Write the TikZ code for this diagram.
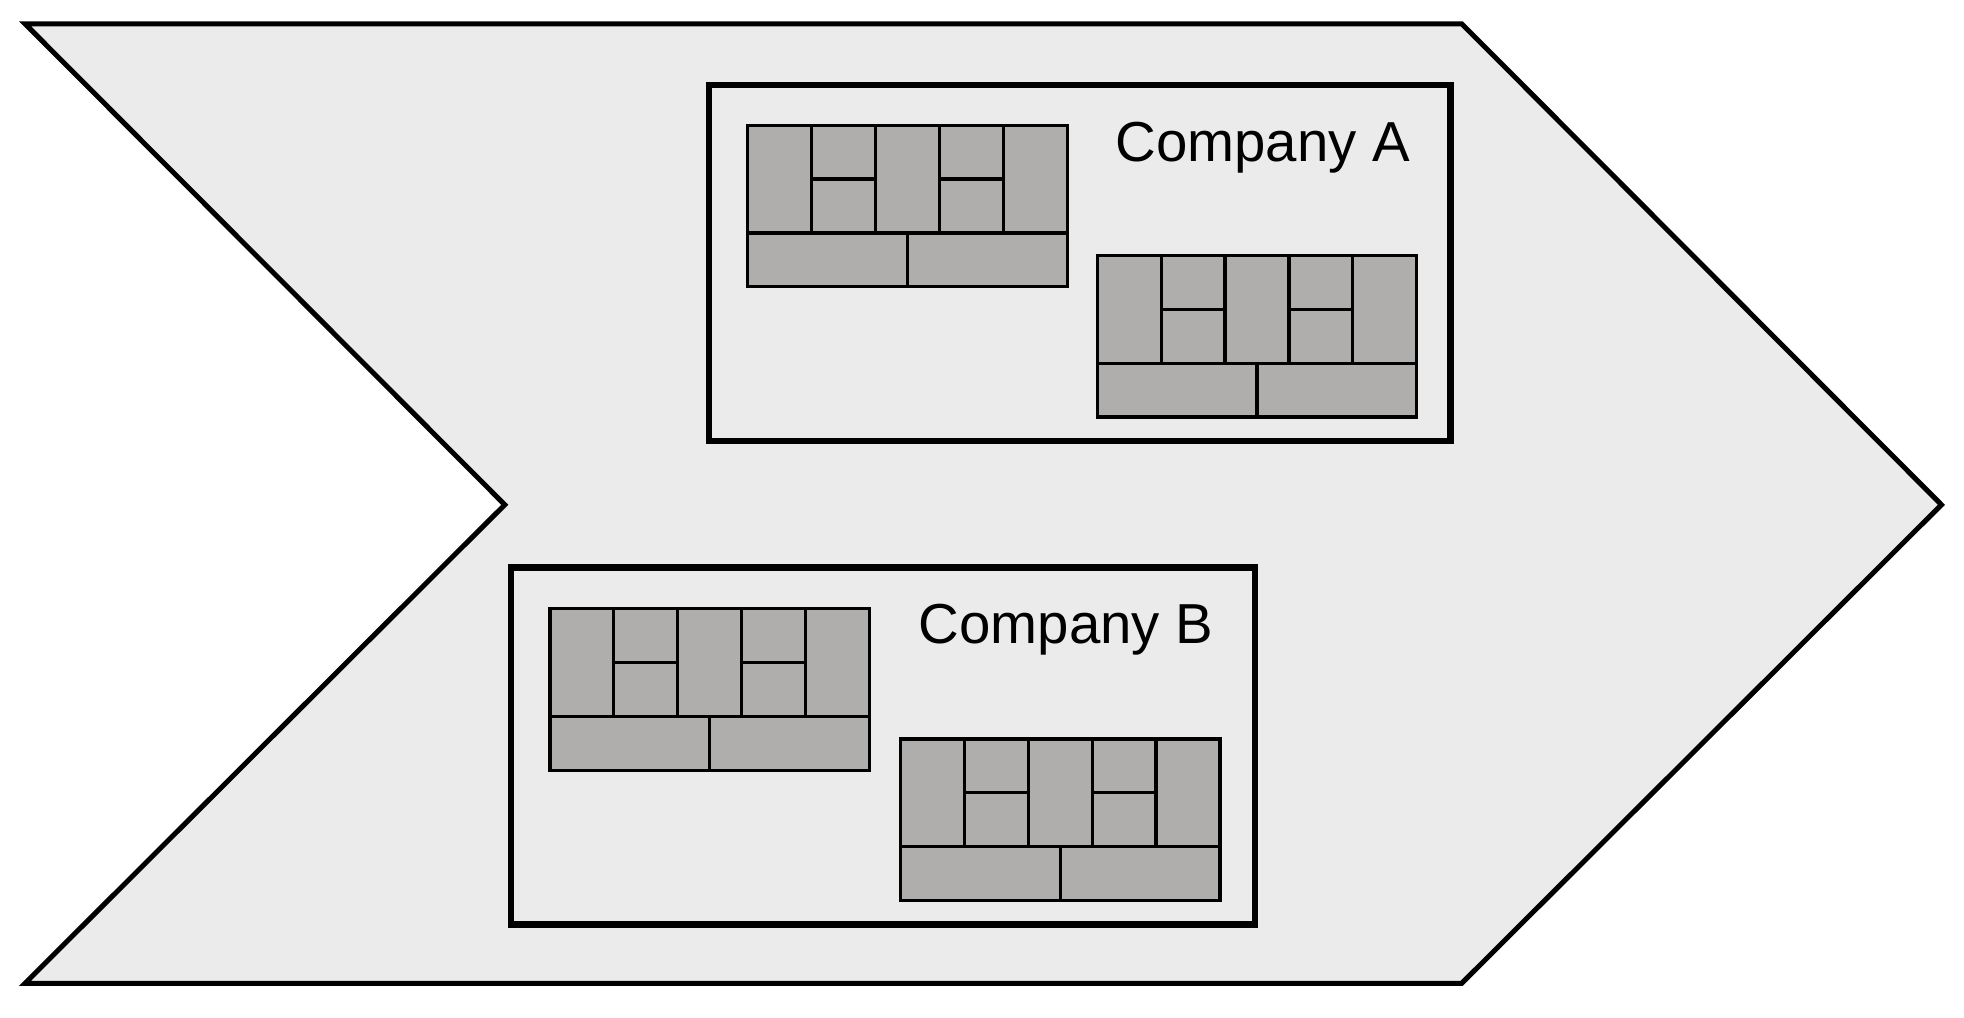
\documentclass[tikz,border=0pt]{standalone}
\usepackage{fontspec}
\setmainfont{Liberation Sans}
\definecolor{bgc}{HTML}{EBEBEB}
\definecolor{blk}{HTML}{B0AEAD}
\begin{document}
\begin{tikzpicture}[x=0.5pt,y=-0.5pt,
  chev/.style={fill=bgc,draw=black,line width=2pt,line join=miter},
  cbox/.style={draw=black,line width=2.6pt},
  cell/.style={fill=blk,draw=black,line width=1.3pt},
  lbl/.style={font=\fontsize{22.5pt}{26pt}\selectfont,inner sep=0pt}]
\useasboundingbox (0,0) rectangle (1568,812);
\draw[chev] (20,19) -- (1167,19) -- (1550,403) -- (1167,785) -- (20,785) -- (403,403) -- cycle;
\draw[cbox] (566,68) rectangle (1158,352);
\draw[cbox] (408,453) rectangle (1002,738);
\node[lbl] (la) at (1008,118) {Company A};
\node[lbl] (lb) at (851,503) {Company B};
\newcommand{\minib}[2]{%
 \begin{scope}[shift={(#1,#2)}]
  \foreach \i in {0,2,4} {\draw[cell] (\i*51,0) rectangle ++(51,86);}
  \foreach \i in {1,3} {\draw[cell] (\i*51,0) rectangle ++(51,43);\draw[cell] (\i*51,43) rectangle ++(51,43);}
  \draw[cell] (0,86) rectangle (127.5,129);
  \draw[cell] (127.5,86) rectangle (255,129);
 \end{scope}}
\minib{597}{100}
\minib{876}{204}
\minib{439}{486}
\minib{719}{590}
\end{tikzpicture}
\end{document}
